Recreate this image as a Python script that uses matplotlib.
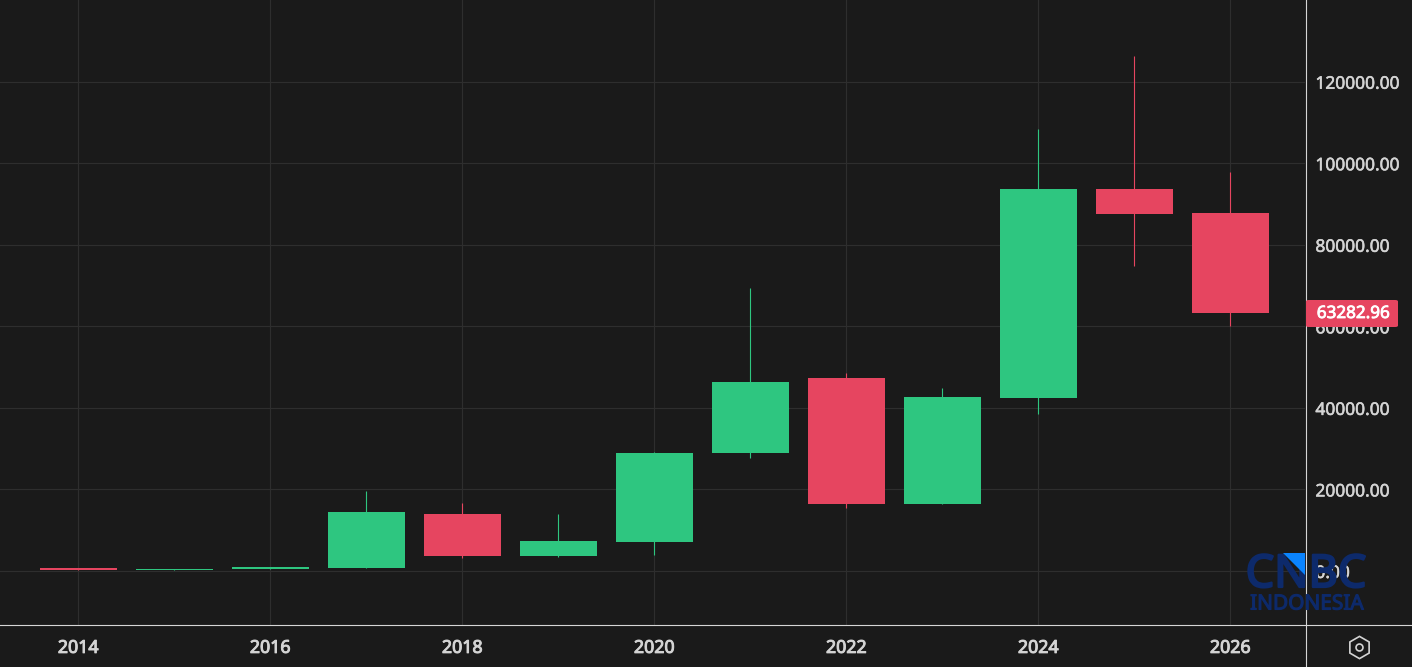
import matplotlib
matplotlib.use('Agg')
import matplotlib.pyplot as plt
import matplotlib.patheffects as pe
from matplotlib.patches import FancyBboxPatch, Polygon

# Yearly candles
years = [2014, 2015, 2016, 2017, 2018, 2019, 2020, 2021, 2022, 2023, 2024, 2025, 2026]
opens = [770, 320, 430, 800, 14000, 3700, 7200, 29000, 47300, 16500, 42500, 93700, 87800]
highs = [770, 430, 960, 19630, 16700, 14000, 29300, 69300, 48500, 44900, 108500, 126200, 97800]
lows = [320, 320, 430, 800, 3200, 3400, 3900, 27700, 15500, 16500, 38500, 74700, 60000]
closes = [320, 430, 1000, 14400, 3700, 7400, 29000, 46300, 16500, 42600, 93700, 87600, 63282.96]

y_ticks = [0, 20000, 40000, 60000, 80000, 100000, 120000]
x_ticks = [2014, 2016, 2018, 2020, 2022, 2024, 2026]
last_price = 63282.96

BG = '#1a1a1a'
GRID = '#2e2e2e'
AXIS = '#d6d6d6'
TEXT = '#d4d4d4'
UP = '#2ec680'
DOWN = '#e64560'
LOGO = '#0d2a6b'

plt.rcParams['font.family'] = ['Noto Sans', 'DejaVu Sans']


# Fake a heavier weight with a thin outline in the text's own colour
def thicken(text, width, color):
    text.set_path_effects([pe.withStroke(linewidth=width, foreground=color)])


W, H = 1412, 667
fig = plt.figure(figsize=(W / 100, H / 100), dpi=100, facecolor=BG)
ax = fig.add_axes([0, 42 / H, 1305 / W, 625 / H], facecolor=BG)

# Scales: 96 px a year, 81.5 px per 20000
ax.set_xlim(2014 - 78.3 / 96, 2014 + (1305 - 78.3) / 96)
ax.set_ylim(-54 / 81.5 * 20000, 570.7 / 81.5 * 20000)

ax.grid(True, color=GRID, linewidth=0.8)
ax.set_axisbelow(True)

# Draw the candles
for i in range(len(years)):
    color = UP if closes[i] >= opens[i] else DOWN
    ax.vlines(years[i], lows[i], highs[i], color=color, linewidth=0.8, zorder=2)
    ax.bar(years[i], abs(closes[i] - opens[i]), bottom=min(opens[i], closes[i]),
           width=0.805, color=color, linewidth=0, zorder=3)

ax.set_xticks(x_ticks)
ax.set_xticklabels([str(x) for x in x_ticks])
ax.set_yticks(y_ticks)
ax.set_yticklabels([f'{y:.2f}' for y in y_ticks])
ax.yaxis.tick_right()
ax.tick_params(axis='x', length=0, pad=10, labelsize=12.8, labelcolor=TEXT)
ax.tick_params(axis='y', length=0, pad=7.5, labelsize=12.5, labelcolor=TEXT)
for label in ax.get_xticklabels():
    thicken(label, 0.7, TEXT)
for label in ax.get_yticklabels():
    thicken(label, 0.4, TEXT)

for side in ['top', 'left', 'right', 'bottom']:
    ax.spines[side].set_visible(False)
# the axis lines run out to the edges of the image
fig.add_artist(plt.Line2D([0, 1], [42 / H, 42 / H], color=AXIS, linewidth=0.8))
fig.add_artist(plt.Line2D([1305.5 / W, 1305.5 / W], [0, 1], color=AXIS, linewidth=0.8))

# Last price tag
tag = FancyBboxPatch((1306 / W, (H - 327) / H), 92 / W, 27 / H,
                     boxstyle='round,pad=0,rounding_size=0.002',
                     transform=fig.transFigure, facecolor=DOWN, edgecolor='none', zorder=5)
fig.add_artist(tag)
price = fig.text(1353.5 / W, (H - 314) / H, f'{last_price:.2f}', color='white', fontsize=12.3,
                 ha='center', va='center', zorder=6)
thicken(price, 0.6, 'white')

# Settings icon
fig.add_artist(plt.Line2D([1359 / W], [(H - 647) / H], marker='h', markersize=16,
                          markerfacecolor='none', markeredgecolor=TEXT, markeredgewidth=1.2))
fig.add_artist(plt.Line2D([1359 / W], [(H - 647) / H], marker='o', markersize=5,
                          markerfacecolor='none', markeredgecolor=TEXT, markeredgewidth=1.2))

# Watermark
cnbc = fig.text(1306 / W, (H - 575) / H, 'CNBC', color=LOGO, fontsize=32.5,
                ha='center', va='center', zorder=7)
thicken(cnbc, 1.6, LOGO)
indo = fig.text(1307 / W, (H - 604) / H, 'INDONESIA', color=LOGO, fontsize=15,
                ha='center', va='center', zorder=7)
thicken(indo, 0.8, LOGO)
fig.add_artist(Polygon([(1283 / W, (H - 553) / H), (1305 / W, (H - 553) / H), (1305 / W, (H - 575) / H)],
                       closed=True, transform=fig.transFigure, facecolor='#0a84ff',
                       edgecolor='none', zorder=8))

fig.savefig('out.png', dpi=100, facecolor=BG)
